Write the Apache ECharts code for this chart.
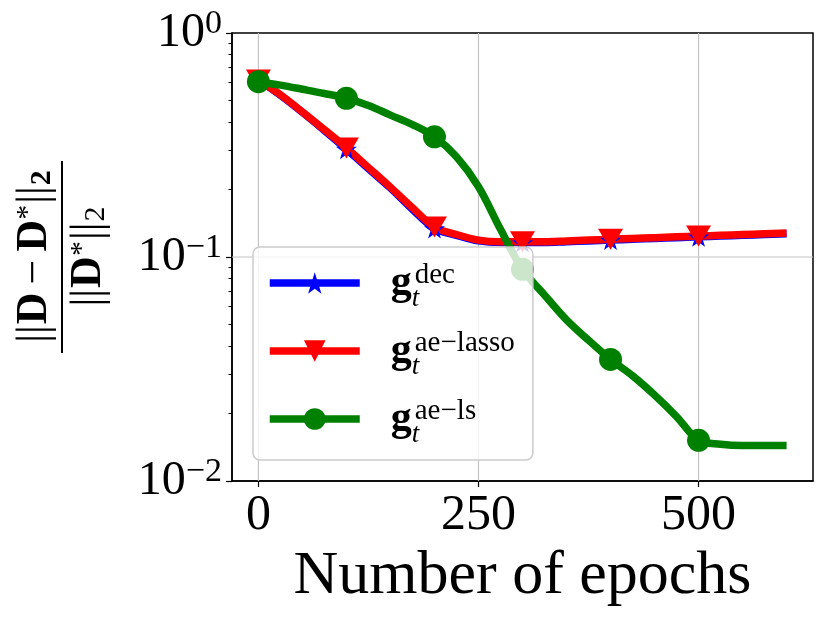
<!DOCTYPE html>
<html>
<head>
<meta charset="utf-8">
<script src="https://cdn.jsdelivr.net/npm/echarts@6/dist/echarts.min.js"></script>
<style>
html,body{margin:0;padding:0;background:#fff;}
#chart{width:829px;height:622px;}
</style>
</head>
<body>
<div id="chart"></div>
<script>
"use strict";
/* values */
let epochs = [0,25,50,75,100,125,150,175,200,225,250,275,300,325,350,375,400,425,450,475,500,525,550,575,600];
let markerEpochs = [0,100,200,300,400,500];
let decVals = [0.617,0.527,0.442,0.367,0.303,0.248,0.203,0.163,0.134,0.125,0.118,0.116,0.116,0.116,0.117,0.118,0.119,0.120,0.121,0.122,0.123,0.124,0.125,0.126,0.127];
let lassoVals = [0.617,0.530,0.444,0.370,0.307,0.251,0.205,0.166,0.136,0.126,0.119,0.117,0.117,0.117,0.118,0.119,0.120,0.121,0.122,0.123,0.124,0.125,0.126,0.127,0.128];
let lsVals = [0.606,0.585,0.561,0.537,0.511,0.475,0.430,0.390,0.344,0.280,0.206,0.133,0.0881,0.0677,0.0524,0.0425,0.0349,0.0295,0.0242,0.0194,0.0152,0.0146,0.0144,0.0144,0.0144];
let seriesNames = ["dec","ae\u2212lasso","ae\u2212ls"];
let xTicks = [0,250,500];
let yTicks = [0.01,0.1,1];
let yMinor = [0.02,0.03,0.04,0.05,0.06,0.07,0.08,0.09,0.2,0.3,0.4,0.5,0.6,0.7,0.8,0.9];
let xRange = [-30,630];
let xTitle = "Number of epochs";

let serif = "'Liberation Serif','DejaVu Serif',serif";
let gridColor = "#c4c4c4";
let starPath = "path://M50,0L61.2,34.5L97.6,34.5L68.2,55.9L79.4,90.5L50,69.1L20.6,90.5L31.8,55.9L2.4,34.5L38.8,34.5Z";
let triPath = "path://M0,0L100,0L50,86Z";

function toData(vals){
    return vals.map((v,i)=>{
        let item = {value:[epochs[i],v]};
        if(markerEpochs.indexOf(epochs[i]) < 0){ item.symbol = "none"; }
        return item;
    });
}

function curve(name,vals,color,symbol,size){
    return {
        type:"line",
        name:name,
        data:toData(vals),
        smooth:0.35,
        symbol:symbol,
        symbolSize:size,
        showSymbol:true,
        showAllSymbol:true,
        lineStyle:{color:color,width:7.5},
        itemStyle:{color:color},
        z:2
    };
}

/* grid lines as thin series so they stay under the curves */
let gridSeries = xTicks.map(t=>({
    type:"line",
    data:[[t,yTicks[0]],[t,yTicks[yTicks.length-1]]],
    symbol:"none",
    silent:true,
    lineStyle:{color:gridColor,width:1.2},
    z:1
}));
gridSeries.push({
    type:"line",
    data:[[xRange[0],yTicks[1]],[xRange[1],yTicks[1]]],
    symbol:"none",
    silent:true,
    lineStyle:{color:gridColor,width:1.2},
    z:1
});

let logMin = Math.log10(yTicks[0]);
let logMax = Math.log10(yTicks[yTicks.length-1]);

let chart = echarts.init(document.getElementById("chart"));
let option = {
    animation:false,
    backgroundColor:"#fff",
    grid:{
        left:232,
        top:33,
        right:16,
        bottom:141,
        show:true,
        borderColor:"#000",
        borderWidth:1.5
    },
    legend:{
        data:seriesNames,
        orient:"vertical",
        left:253,
        top:247,
        padding:[7,18,12,13],
        itemWidth:90,
        itemHeight:27,
        itemGap:10,
        lineStyle:{width:7.5},
        backgroundColor:"rgba(255,255,255,0.8)",
        borderColor:"#cccccc",
        borderWidth:1.5,
        borderRadius:7,
        z:10,
        formatter(name){
            return "{g|g}{t|t}{s|" + name + "}";
        },
        textStyle:{
            color:"#000",
            fontFamily:serif,
            rich:{
                g:{fontSize:42,fontWeight:"bold",fontFamily:serif,lineHeight:58,padding:[0,0,0,26]},
                t:{fontSize:27,fontStyle:"italic",fontFamily:serif,lineHeight:27,verticalAlign:"bottom",width:1},
                s:{fontSize:29,fontFamily:serif,lineHeight:29,verticalAlign:"top",padding:[7,0,0,2]}
            }
        }
    },
    xAxis:{
        type:"value",
        min:xRange[0],
        max:xRange[1],
        name:xTitle,
        nameLocation:"middle",
        nameGap:56,
        nameTextStyle:{fontSize:62,fontFamily:serif,color:"#000"},
        axisLine:{onZero:false,lineStyle:{color:"#000",width:1.5}},
        axisTick:{customValues:xTicks,length:6,lineStyle:{color:"#000",width:1.2}},
        axisLabel:{customValues:xTicks,fontSize:50,fontFamily:serif,color:"#000",margin:10},
        splitLine:{show:false}
    },
    yAxis:[
        {
            type:"log",
            logBase:10,
            position:"left",
            min:yTicks[0],
            max:yTicks[yTicks.length-1],
            axisLine:{show:true,onZero:false,lineStyle:{color:"#000",width:1.5}},
            axisTick:{length:6,lineStyle:{color:"#000",width:1.2}},
            axisLabel:{
                margin:10,
                formatter(v){
                    let e = Math.round(Math.log10(v));
                    return "{b|10}{s|" + (e < 0 ? "\u2212" + (-e) : e) + "}";
                },
                rich:{
                    b:{fontSize:48,fontFamily:serif,color:"#000",lineHeight:52},
                    s:{fontSize:34,fontFamily:serif,color:"#000",lineHeight:28,verticalAlign:"top"}
                }
            },
            splitLine:{show:false}
        },
        {
            /* minor ticks of the log axis, placed in log10 space */
            type:"value",
            position:"left",
            min:logMin,
            max:logMax,
            axisLine:{show:false,onZero:false},
            axisTick:{customValues:yMinor.map(v=>Math.log10(v)),length:3.5,lineStyle:{color:"#000",width:1}},
            axisLabel:{show:false},
            splitLine:{show:false}
        }
    ],
    graphic:[{
        type:"group",
        x:62,
        y:257,
        rotation:Math.PI/2,
        children:[
            {type:"line",shape:{x1:-96,y1:0,x2:96,y2:0},style:{stroke:"#000",lineWidth:2}},
            {
                type:"text",
                x:0,
                y:-27,
                style:{
                    text:"{n|||}{b|D}{m|\u2212}{b|D}{sup|*}{n|||}{sub|2}",
                    align:"center",
                    verticalAlign:"middle",
                    rich:{
                        n:{fontSize:44,fontFamily:serif,fill:"#000",padding:[0,1]},
                        b:{fontSize:44,fontFamily:serif,fontWeight:"bold",fill:"#000"},
                        m:{fontSize:44,fontFamily:serif,fill:"#000",padding:[0,8]},
                        sup:{fontSize:30,fontFamily:serif,fill:"#000",verticalAlign:"top",lineHeight:26},
                        sub:{fontSize:30,fontFamily:serif,fontWeight:"bold",fill:"#000",verticalAlign:"bottom",lineHeight:26}
                    }
                }
            },
            {
                type:"text",
                x:0,
                y:27,
                style:{
                    text:"{n|||}{b|D}{sup|*}{n|||}{sub|2}",
                    align:"center",
                    verticalAlign:"middle",
                    rich:{
                        n:{fontSize:44,fontFamily:serif,fill:"#000",padding:[0,1]},
                        b:{fontSize:44,fontFamily:serif,fontWeight:"bold",fill:"#000"},
                        sup:{fontSize:30,fontFamily:serif,fill:"#000",verticalAlign:"top",lineHeight:26},
                        sub:{fontSize:30,fontFamily:serif,fill:"#000",verticalAlign:"bottom",lineHeight:26}
                    }
                }
            }
        ]
    }],
    series:gridSeries.concat([
        curve(seriesNames[0],decVals,"#0000ff",starPath,[21,20]),
        curve(seriesNames[1],lassoVals,"#ff0000",triPath,[25,21]),
        curve(seriesNames[2],lsVals,"#008000","circle",23)
    ])
};
chart.setOption(option);
</script>
</body>
</html>
